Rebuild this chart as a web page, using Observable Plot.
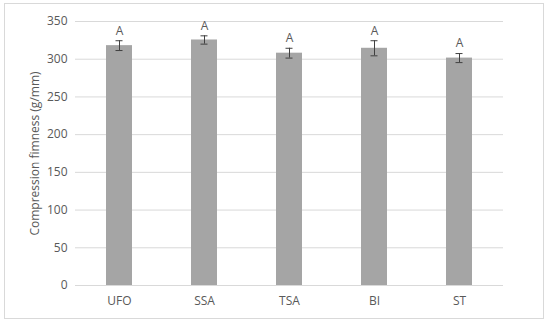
<!DOCTYPE html>
<html>
<head>
<meta charset="utf-8">
<script src="https://cdn.jsdelivr.net/npm/d3@7"></script>
<script src="https://cdn.jsdelivr.net/npm/@observablehq/plot@0.6"></script>
<style>
  html, body { margin: 0; padding: 0; background: #fff; }
  #wrap { position: relative; width: 550px; height: 325px; }
  #border { position: absolute; left: 4px; top: 3px; width: 540px; height: 316px; border: 1px solid #D9D9D9; box-sizing: border-box; pointer-events: none; }
</style>
</head>
<body>
<div id="wrap"><div id="border"></div></div>
<script>
const categories = ["UFO", "SSA", "TSA", "BI", "ST"];
const values = [318, 325.5, 308, 314.5, 301.5];
const errors = [6.5, 5.5, 6.5, 10, 6];
const letters = ["A", "A", "A", "A", "A"];
const yTicks = [0, 50, 100, 150, 200, 250, 300, 350];

const data = categories.map((c, i) => ({cat: c, v: values[i], e: errors[i], l: letters[i]}));

const chart = Plot.plot({
  width: 550,
  height: 325,
  marginLeft: 75,
  marginRight: 47,
  marginTop: 21,
  marginBottom: 40,
  style: {fontFamily: "'Open Sans', sans-serif", fontSize: "12px", color: "#595959", background: "transparent"},
  x: {domain: categories, paddingInner: 0.69, paddingOuter: 0.345, label: null, tickSize: 0, tickPadding: 11},
  y: {domain: [0, 350], ticks: yTicks, tickSize: 0, tickPadding: 8, label: "Compression fimness (g/mm)", labelAnchor: "center", labelArrow: "none", labelOffset: 45},
  marks: [
    Plot.gridY(yTicks, {stroke: "#D9D9D9", strokeOpacity: 1, strokeWidth: 1}),
    Plot.barY(data, {x: "cat", y: "v", fill: "#A5A5A5"}),
    Plot.ruleX(data, {x: "cat", y1: d => d.v - d.e, y2: d => d.v + d.e, stroke: "#404040", strokeWidth: 1}),
    Plot.tickY(data, {x: "cat", y: d => d.v - d.e, stroke: "#404040", insetLeft: 9.5, insetRight: 9.5}),
    Plot.tickY(data, {x: "cat", y: d => d.v + d.e, stroke: "#404040", insetLeft: 9.5, insetRight: 9.5}),
    Plot.text(data, {x: "cat", y: d => d.v + d.e, text: "l", dy: -10, fill: "#595959", fontSize: 12})
  ]
});
document.getElementById("wrap").prepend(chart);
</script>
</body>
</html>
